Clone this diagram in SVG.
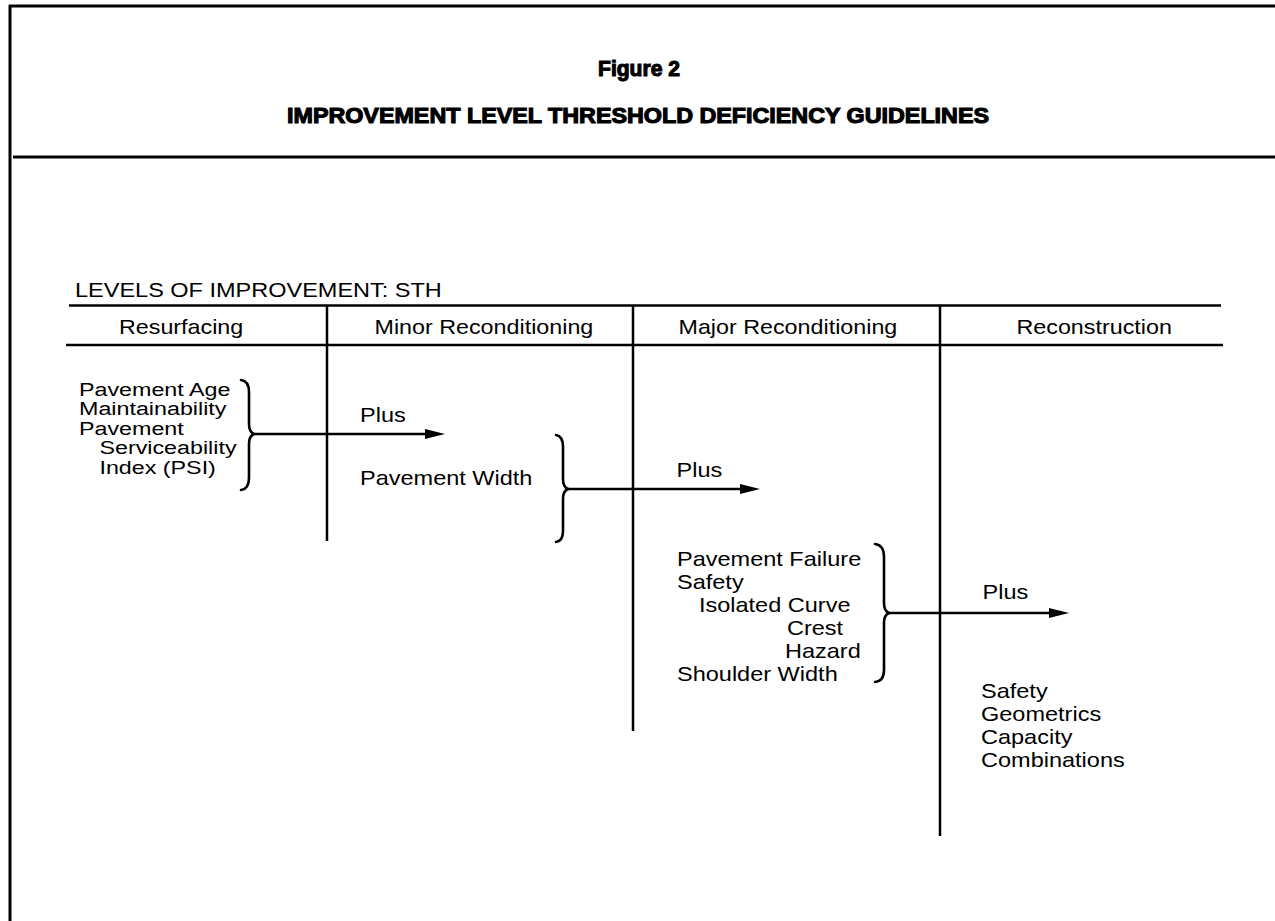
<svg xmlns="http://www.w3.org/2000/svg" width="1275" height="921" viewBox="0 0 1275 921">
<style>
.t{font-family:"Liberation Sans",Arial,Helvetica,sans-serif;fill:#000}
.a{font-size:20px}
.b{font-size:21px}
.c{font-size:18px}
.h{font-family:"Liberation Sans",Arial,Helvetica,sans-serif;font-weight:bold;font-size:21.5px;fill:#000;stroke:#000;stroke-width:1.1}
.frame{stroke:#000;stroke-width:3;fill:none}
.ln{stroke:#000;stroke-width:2.5;fill:none}
.br{stroke:#000;stroke-width:2.6;fill:none;stroke-linecap:round}
</style>
<defs>
<marker id="ah" markerUnits="userSpaceOnUse" viewBox="0 0 20 10" markerWidth="20" markerHeight="10" refX="10" refY="5" orient="auto">
<path d="M0,0 L20,5 L0,10 z" fill="#000"/>
</marker>
</defs>
<rect width="1275" height="921" fill="#fff"/>
<g id="frame">
<line class="frame" x1="9" y1="6" x2="1275" y2="6"/>
<line class="frame" x1="10" y1="5" x2="10" y2="921"/>
<line class="frame" x1="13" y1="157" x2="1275" y2="157"/>
</g>
<g id="title">
<text class="h" x="639" y="76" text-anchor="middle" textLength="82" lengthAdjust="spacingAndGlyphs">Figure 2</text>
<text class="h" x="638" y="123" text-anchor="middle" textLength="702" lengthAdjust="spacingAndGlyphs">IMPROVEMENT LEVEL THRESHOLD DEFICIENCY GUIDELINES</text>
</g>
<g id="table">
<text class="t a" transform="translate(75,297) scale(1.175,1)">LEVELS OF IMPROVEMENT: STH</text>
<line class="ln" x1="69" y1="305.5" x2="1221" y2="305.5"/>
<line class="ln" x1="66" y1="345" x2="1223" y2="345"/>
<line class="ln" x1="327" y1="305" x2="327" y2="541"/>
<line class="ln" x1="633" y1="305" x2="633" y2="731"/>
<line class="ln" x1="940" y1="305" x2="940" y2="836"/>
</g>
<g id="col-resurfacing">
<text class="t a" transform="translate(119,334) scale(1.165,1)">Resurfacing</text>
</g>
<g id="col-minor">
<text class="t a" transform="translate(374.5,334) scale(1.165,1)">Minor Reconditioning</text>
</g>
<g id="col-major">
<text class="t a" transform="translate(678.5,334) scale(1.165,1)">Major Reconditioning</text>
</g>
<g id="col-reconstruction">
<text class="t a" transform="translate(1016.5,334) scale(1.165,1)">Reconstruction</text>
</g>
<g id="block-resurfacing">
<text class="t c" transform="translate(79,396) scale(1.294,1)"><tspan x="0" y="0">Pavement Age</tspan><tspan x="0" y="19.5">Maintainability</tspan><tspan x="0" y="39">Pavement</tspan><tspan x="15.8" y="58.5">Serviceability</tspan><tspan x="15.8" y="78">Index (PSI)</tspan></text>
<path class="br" d="M241,380 Q249,381 249,392 L249,424 Q249,432 254,434 Q249,436 249,444 L249,478 Q249,489 241,490"/>
</g>
<g id="block-minor">
<text class="t b" transform="translate(360,422) scale(1.12,1)">Plus</text>
<text class="t b" transform="translate(360,485) scale(1.12,1)">Pavement Width</text>
<path class="br" d="M556,435 Q563,436 563,447 L563,479 Q563,487 568,489 Q563,491 563,499 L563,531 Q563,541 556,542"/>
</g>
<g id="block-major">
<text class="t b" transform="translate(676.5,477) scale(1.12,1)">Plus</text>
<text class="t b" transform="translate(677,566) scale(1.12,1)"><tspan x="0" y="0">Pavement Failure</tspan><tspan x="0" y="23">Safety</tspan><tspan x="19.6" y="46">Isolated Curve</tspan><tspan x="98.2" y="69">Crest</tspan><tspan x="96.4" y="92">Hazard</tspan><tspan x="0" y="115">Shoulder Width</tspan></text>
<path class="br" d="M875,544 Q884,545 884,557 L884,603 Q884,611 889,613 Q884,615 884,623 L884,670 Q884,681 875,682"/>
</g>
<g id="block-reconstruction">
<text class="t b" transform="translate(982.5,599) scale(1.12,1)">Plus</text>
<text class="t b" transform="translate(981,698) scale(1.12,1)"><tspan x="0" y="0">Safety</tspan><tspan x="0" y="23">Geometrics</tspan><tspan x="0" y="46">Capacity</tspan><tspan x="0" y="69">Combinations</tspan></text>
</g>
<g id="connectors">
<path class="ln" d="M254,434 H435" marker-end="url(#ah)"/>
<path class="ln" d="M568,489 H750" marker-end="url(#ah)"/>
<path class="ln" d="M889,613 H1059" marker-end="url(#ah)"/>
</g>
</svg>
